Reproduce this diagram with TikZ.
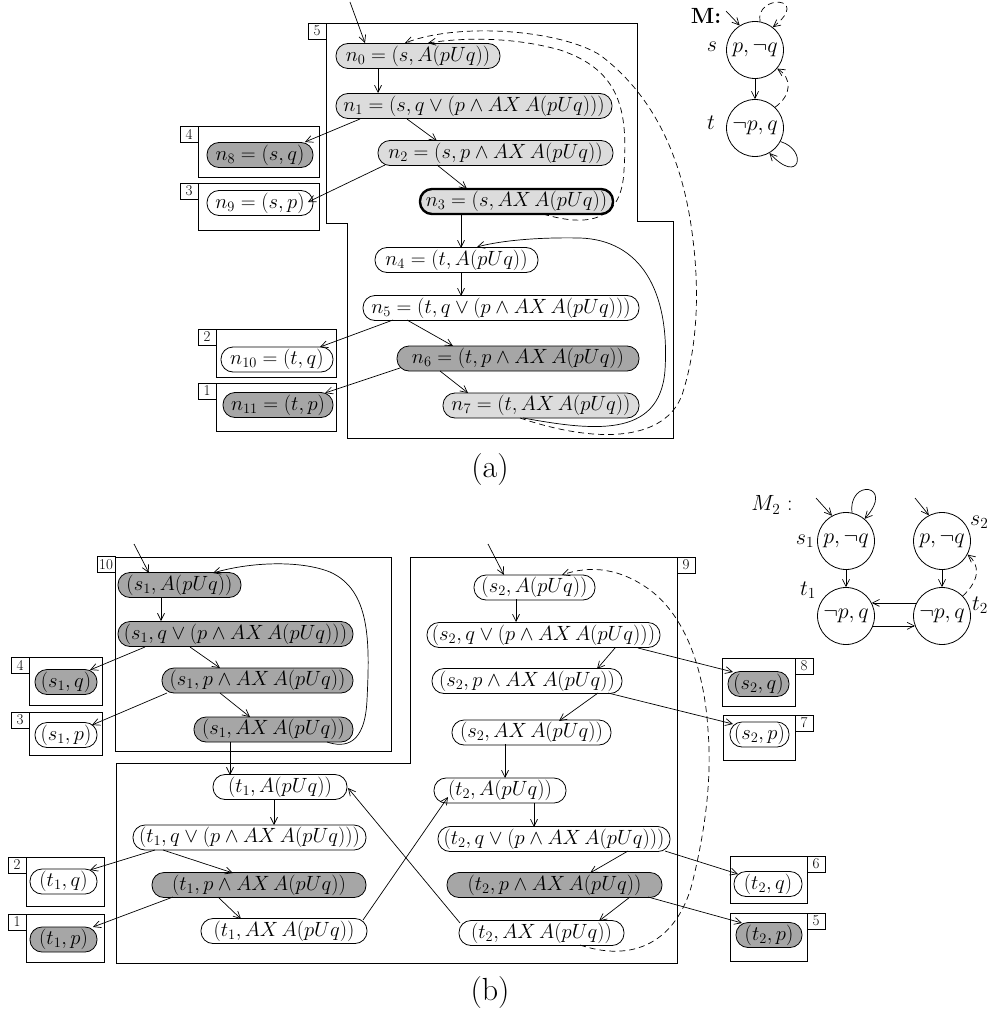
\RequirePackage{fix-cm}
\documentclass[tikz,border=0pt]{standalone}
\usetikzlibrary{arrows.meta}
\newcommand\nodefnt{\fontsize{20.6}{24}\selectfont}
\newcommand\labfnt{\fontsize{15}{16}\selectfont}
\newcommand\cirfnt{\fontsize{22}{24}\selectfont}
\newcommand\capfnt{\fontsize{32}{36}\selectfont}
\definecolor{darkg}{RGB}{166,166,166}
\definecolor{lightg}{RGB}{220,220,220}
\tikzset{
  st/.style={draw, line width=0.8pt, rounded corners=12pt, minimum height=25pt, inner sep=0pt, font=\nodefnt},
  dk/.style={st, fill=darkg},
  lt/.style={st, fill=lightg},
  wh/.style={st, fill=white},
  lab/.style={draw, line width=0.8pt, inner sep=0pt, minimum width=18pt, minimum height=16pt, font=\labfnt, fill=white},
  cir/.style={draw, circle, line width=0.8pt, minimum size=57pt, inner sep=0pt, font=\cirfnt},
  txt/.style={inner sep=0pt, font=\cirfnt},
  ed/.style={line width=0.7pt, -{Straight Barb[length=7pt,width=7pt]}},
  dsh/.style={ed, dash pattern=on 6pt off 4pt},
  frm/.style={line width=0.8pt},
}
\begin{document}
\begin{tikzpicture}[x=1pt,y={(0pt,-1pt)}]
\useasboundingbox (0,0) rectangle (988,1019);
% ================= (a) =================
\draw[frm] (326,23) -- (637,23) -- (637,221) -- (673,221) -- (673,438) -- (347,438) -- (347,223) -- (326,223) -- cycle;
\node[lab] (L5) at (317,31) {5};
\draw[frm] (198,126) rectangle (319,177); \node[lab] (L4a) at (189,134) {4};
\draw[frm] (198,183) rectangle (319,230); \node[lab] (L3a) at (189,191) {3};
\draw[frm] (216,329) rectangle (336,377); \node[lab] (L2a) at (207,337) {2};
\draw[frm] (216,383) rectangle (336,431); \node[lab] (L1a) at (207,391) {1};

\node[lt, minimum width=164pt] (n0) at (418,56) {$n_0 = (s, A(pUq))$};
\node[lt, minimum width=276pt] (n1) at (474,106) {$n_1 = (s, q \vee (p \wedge AX\,A(pUq)))$};
\node[lt, minimum width=235pt] (n2) at (495.5,153) {$n_2 = (s, p \wedge AX\,A(pUq))$};
\node[lt, minimum width=193pt, line width=2.4pt] (n3) at (516.5,201.5) {$n_3 = (s, AX\,A(pUq))$};
\node[wh, minimum width=163pt] (n4) at (456.5,260) {$n_4 = (t, A(pUq))$};
\node[wh, minimum width=276pt] (n5) at (501,308) {$n_5 = (t, q \vee (p \wedge AX\,A(pUq)))$};
\node[dk, minimum width=242pt] (n6) at (518,358.5) {$n_6 = (t, p \wedge AX\,A(pUq))$};
\node[lt, minimum width=196pt] (n7) at (541,405.5) {$n_7 = (t, AX\,A(pUq))$};
\node[dk, minimum width=106pt] (n8) at (260,155) {$n_8 = (s, q)$};
\node[wh, minimum width=106pt] (n9) at (260,203) {$n_9 = (s, p)$};
\node[wh, minimum width=112pt] (n10) at (277,359.5) {$n_{10} = (t, q)$};
\node[dk, minimum width=110pt] (n11) at (278,405) {$n_{11} = (t, p)$};

\coordinate (i0) at (350,2);
\draw[ed] (i0) -- ([shift={(-53,-13)}]n0.center);
\draw[ed] ([shift={(-40,13)}]n0.center) -- ([shift={(-96,-13)}]n1.center);
\draw[ed] ([shift={(-114,13)}]n1.center) -- ([shift={(45,-13)}]n8.center);
\draw[ed] ([shift={(-67,13)}]n1.center) -- ([shift={(-58.5,-12)}]n2.center);
\draw[ed] ([shift={(-110.5,12)}]n2.center) -- ([shift={(48,-1)}]n9.center);
\draw[ed] ([shift={(-58.5,12)}]n2.center) -- ([shift={(-49.5,-12.5)}]n3.center);
\draw[ed] ([shift={(-55.5,12.5)}]n3.center) -- ([shift={(4.5,-12)}]n4.center);
\draw[ed] ([shift={(4.5,12)}]n4.center) -- ([shift={(-40,-12)}]n5.center);
\draw[ed] ([shift={(-108,12)}]n5.center) -- ([shift={(43,-12.5)}]n10.center);
\draw[ed] ([shift={(-94,12)}]n5.center) -- ([shift={(-65,-12.5)}]n6.center);
\draw[ed] ([shift={(-118,9.5)}]n6.center) -- ([shift={(47,-12)}]n11.center);
\draw[ed] ([shift={(-78,12.5)}]n6.center) -- ([shift={(-73,-12.5)}]n7.center);
\draw[ed] ([shift={(-18,12.5)}]n7.center) .. controls (590,430) and (660,440) .. (665,370)
   .. controls (670,290) and (640,240) .. (580,238) .. controls (530,237) and (495,242) .. ([shift={(20.5,-13)}]n4.center);
\draw[dsh] ([shift={(26.5,12.5)}]n3.center) .. controls (590,228) and (622,220) .. (624,170)
   .. controls (628,110) and (620,70) .. (560,50) .. controls (510,36) and (460,38) .. ([shift={(10,-13)}]n0.center);
\draw[dsh] ([shift={(-21,12.5)}]n7.center) .. controls (600,445) and (665,440) .. (682,395)
   .. controls (700,340) and (698,280) .. (693,240) .. controls (685,170) and (660,100) .. (600,55)
   .. controls (560,30) and (460,22) .. ([shift={(-13,-13)}]n0.center);

% M
\node[cir] (s) at (755,50) {$p, \neg q$};
\node[cir] (t) at (755,128) {$\neg p, q$};
\node[txt] (Ml) at (706,16) {\bfseries M:};
\node[txt] (sl) at (712,47) {$s$};
\node[txt] (tl) at (711,123) {$t$};
\coordinate (is) at (726,11);
\draw[ed] (is) -- (s.122);
\draw[dsh] (s.80) .. controls (755,-6) and (812,-4) .. (s.52);
\draw[ed] (s.south) -- (t.north);
\draw[dsh] (t.46) .. controls (792,95) and (792,78) .. (s.-40);
\draw[ed] (t.-28) .. controls (808,150) and (800,186) .. (t.-60);

\node[txt, font=\capfnt] (capa) at (490,470) {(a)};

% ================= (b) =================
\draw[frm] (115,557) rectangle (391,751); \node[lab] (L10) at (106,564.5) {10};
\draw[frm] (410,557) -- (677,557) -- (677,963) -- (116,963) -- (116,763) -- (410,763) -- cycle;
\node[lab] (L9) at (686,565) {9};
\draw[frm] (29,657) rectangle (102,705); \node[lab] (L4b) at (20,665) {4};
\draw[frm] (29,712) rectangle (102,755); \node[lab] (L3b) at (20,720) {3};
\draw[frm] (26,857) rectangle (104,906); \node[lab] (L2b) at (17,865) {2};
\draw[frm] (26,914) rectangle (104,962); \node[lab] (L1b) at (17,922) {1};
\draw[frm] (722,658) rectangle (795,706); \node[lab] (L8b) at (804,666) {8};
\draw[frm] (723,715) rectangle (795,760); \node[lab] (L7b) at (804,723) {7};
\draw[frm] (730,856) rectangle (807,903); \node[lab] (L6b) at (816,864) {6};
\draw[frm] (730,913) rectangle (807,961); \node[lab] (L5b) at (816,921) {5};

\node[dk, minimum width=123pt] (s1A) at (179.5,585) {$(s_1, A(pUq))$};
\node[dk, minimum width=235pt] (s1q) at (235.5,634) {$(s_1, q \vee (p \wedge AX\,A(pUq)))$};
\node[dk, minimum width=191pt] (s1p) at (257.5,680.5) {$(s_1, p \wedge AX\,A(pUq))$};
\node[dk, minimum width=159pt] (s1X) at (273.5,729.5) {$(s_1, AX\,A(pUq))$};
\node[dk, minimum width=62pt] (s1qq) at (66,682) {$(s_1, q)$};
\node[wh, minimum width=62pt] (s1pp) at (66,735) {$(s_1, p)$};

\node[wh, minimum width=134pt] (t1A) at (280,787) {$(t_1, A(pUq))$};
\node[wh, minimum width=233pt] (t1q) at (249.5,837.5) {$(t_1, q \vee (p \wedge AX\,A(pUq)))$};
\node[dk, minimum width=214pt] (t1p) at (259,885) {$(t_1, p \wedge AX\,A(pUq))$};
\node[wh, minimum width=166pt] (t1X) at (284,931) {$(t_1, AX\,A(pUq))$};
\node[wh, minimum width=67pt] (t1qq) at (63.5,881.5) {$(t_1, q)$};
\node[dk, minimum width=67pt] (t1pp) at (63.5,939.5) {$(t_1, p)$};

\node[wh, minimum width=121pt] (s2A) at (534.5,587.5) {$(s_2, A(pUq))$};
\node[wh, minimum width=233pt] (s2q) at (543.5,635) {$(s_2, q \vee (p \wedge AX\,A(pUq)))$};
\node[wh, minimum width=190pt] (s2p) at (527,681) {$(s_2, p \wedge AX\,A(pUq))$};
\node[wh, minimum width=159pt] (s2X) at (531.5,732.5) {$(s_2, AX\,A(pUq))$};
\node[wh, minimum width=132pt] (t2A) at (500,790.5) {$(t_2, A(pUq))$};
\node[wh, minimum width=232pt] (t2q) at (554,839) {$(t_2, q \vee (p \wedge AX\,A(pUq)))$};
\node[dk, minimum width=215pt] (t2p) at (554.5,885) {$(t_2, p \wedge AX\,A(pUq))$};
\node[wh, minimum width=165pt] (t2X) at (541.5,933) {$(t_2, AX\,A(pUq))$};
\node[dk, minimum width=61pt] (s2qq) at (758.5,684) {$(s_2, q)$};
\node[wh, minimum width=59pt] (s2pp) at (759.5,734.5) {$(s_2, p)$};
\node[wh, minimum width=68pt] (t2qq) at (768,884) {$(t_2, q)$};
\node[dk, minimum width=66pt] (t2pp) at (769,935) {$(t_2, p)$};

\coordinate (is1A) at (134,544);
\draw[ed] (is1A) -- ([shift={(-30.5,-12)}]s1A.center);
\draw[ed] ([shift={(-18.5,12)}]s1A.center) -- ([shift={(-74.5,-13)}]s1q.center);
\draw[ed] ([shift={(-90.5,13)}]s1q.center) -- ([shift={(24,-12)}]s1qq.center);
\draw[ed] ([shift={(-45.5,13)}]s1q.center) -- ([shift={(-37.5,-12.5)}]s1p.center);
\draw[ed] ([shift={(-90.5,12.5)}]s1p.center) -- ([shift={(26,-10)}]s1pp.center);
\draw[ed] ([shift={(-37.5,12.5)}]s1p.center) -- ([shift={(-23.5,-12.5)}]s1X.center);
\draw[ed] ([shift={(53.5,12.5)}]s1X.center) .. controls (345,748) and (365,745) .. (367,700)
   .. controls (370,640) and (370,590) .. (330,572) .. controls (300,560) and (250,562) .. ([shift={(33.5,-12)}]s1A.center);
\draw[ed] ([shift={(-43.5,12.5)}]s1X.center) -- ([shift={(-50,-12)}]t1A.center);
\draw[ed] ([shift={(-6,12)}]t1A.center) -- ([shift={(24.5,-12.5)}]t1q.center);
\draw[ed] ([shift={(-94.5,12.5)}]t1q.center) -- ([shift={(26.5,-11.5)}]t1qq.center);
\draw[ed] ([shift={(-86.5,12.5)}]t1q.center) -- ([shift={(-26,-12)}]t1p.center);
\draw[ed] ([shift={(-86,12)}]t1p.center) -- ([shift={(29.5,-12.5)}]t1pp.center);
\draw[ed] ([shift={(-41,12)}]t1p.center) -- ([shift={(-43,-12)}]t1X.center);
\draw[ed] ([shift={(79,-11)}]t1X.center) -- ([shift={(-52,6.5)}]t2A.center);
\draw[ed] ([shift={(-81.5,-10)}]t2X.center) -- ([shift={(68,1)}]t1A.center);

\coordinate (is2A) at (488,544);
\draw[ed] (is2A) -- ([shift={(-30.5,-12.5)}]s2A.center);
\draw[ed] ([shift={(-18.5,11.5)}]s2A.center) -- ([shift={(-27.5,-13)}]s2q.center);
\draw[ed] ([shift={(71.5,13)}]s2q.center) -- ([shift={(70,-12)}]s2p.center);
\draw[ed] ([shift={(94.5,13)}]s2q.center) -- ([shift={(-25.5,-12)}]s2qq.center);
\draw[ed] ([shift={(71,12)}]s2p.center) -- ([shift={(27.5,-11.5)}]s2X.center);
\draw[ed] ([shift={(81,12)}]s2p.center) -- ([shift={(-26.5,-10.5)}]s2pp.center);
\draw[ed] ([shift={(-26.5,11.5)}]s2X.center) -- ([shift={(5,-12.5)}]t2A.center);
\draw[ed] ([shift={(34,12.5)}]t2A.center) -- ([shift={(-20,-12)}]t2q.center);
\draw[ed] ([shift={(74,12)}]t2q.center) -- ([shift={(35.5,-12)}]t2p.center);
\draw[ed] ([shift={(111,12)}]t2q.center) -- ([shift={(-30,-10)}]t2qq.center);
\draw[ed] ([shift={(75.5,12)}]t2p.center) -- ([shift={(57.5,-12)}]t2X.center);
\draw[ed] ([shift={(93.5,12)}]t2p.center) -- ([shift={(-27,-12)}]t2pp.center);
\draw[dsh] ([shift={(38.5,12)}]t2X.center) .. controls (640,965) and (680,935) .. (693,880)
   .. controls (705,830) and (712,780) .. (708,730) .. controls (705,680) and (690,620) .. (650,590)
   .. controls (620,568) and (590,565) .. ([shift={(27.5,-12.5)}]s2A.center);

% M2
\node[cir] (s1c) at (846,541) {$p, \neg q$};
\node[cir] (s2c) at (942,541) {$p, \neg q$};
\node[cir] (t1c) at (846,616) {$\neg p, q$};
\node[cir] (t2c) at (942,616) {$\neg p, q$};
\node[txt] (M2l) at (772,505) {$M_2$ :};
\node[txt] (s1l) at (805,541) {$s_1$};
\node[txt, anchor=west] (s2l) at (970,522) {$s_2$};
\node[txt] (t1l) at (808,590) {$t_1$};
\node[txt, anchor=west] (t2l) at (972,605) {$t_2$};
\coordinate (is1) at (816,498);
\coordinate (is2) at (915,498);
\draw[ed] (is1) -- (s1c.119);
\draw[ed] (is2) -- (s2c.117);
\draw[ed] (s1c.78) .. controls (848,478) and (896,484) .. (s1c.50);
\draw[ed] (s1c.south) -- (t1c.north);
\draw[ed] (s2c.south) -- (t2c.north);
\draw[ed] (t2c.153) -- (t1c.27);
\draw[ed] (t1c.-20) -- (t2c.200);
\draw[dsh] (t2c.44) .. controls (980,580) and (980,565) .. (s2c.-28);

\node[txt, font=\capfnt] (capb) at (490,993) {(b)};
\end{tikzpicture}
\end{document}
